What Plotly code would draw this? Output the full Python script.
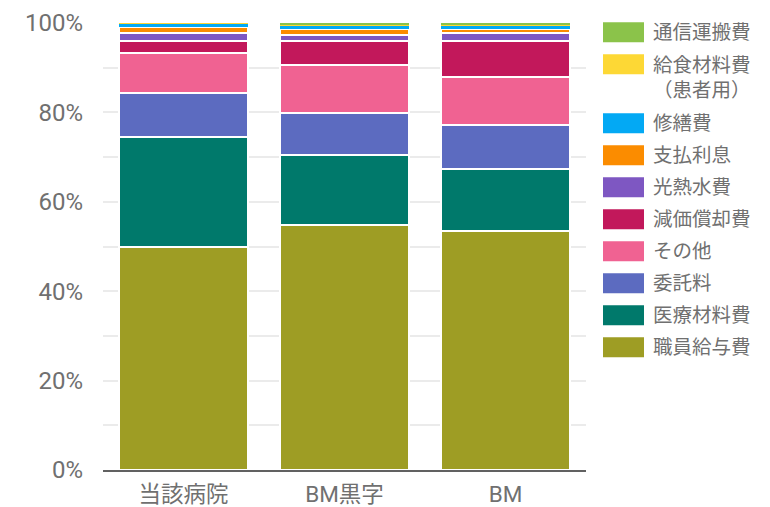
import plotly.graph_objects as go

# Hospital cost structure: share of total expenses (%), three comparison groups
categories = ["当該病院", "BM黒字", "BM"]

# Expense items, stacked bottom to top
items = ["職員給与費", "医療材料費", "委託料", "その他", "減価償却費",
         "光熱水費", "支払利息", "修繕費", "給食材料費<br>（患者用）", "通信運搬費"]

salaries = [50.0, 54.7, 53.4]
medical_materials = [24.5, 15.7, 13.9]
outsourcing = [9.9, 9.4, 9.85]
other = [8.9, 10.7, 10.7]
depreciation = [2.7, 5.4, 8.05]
utilities = [1.8, 1.35, 1.8]
interest = [1.3, 1.35, 0.9]
repairs = [0.7, 0.7, 0.7]
patient_meals = [0.2, 0.45, 0.45]
communication = [0.2, 0.3, 0.3]

series = [salaries, medical_materials, outsourcing, other, depreciation,
          utilities, interest, repairs, patient_meals, communication]

colors = ["#9E9D24", "#00796B", "#5C6BC0", "#F06292", "#C2185B",
          "#7E57C2", "#FB8C00", "#03A9F4", "#FDD835", "#8BC34A"]

TEXT = "#707070"
FONT = "Roboto, 'Noto Sans CJK JP', sans-serif"

fig = go.Figure()
for name, vals, col in zip(items, series, colors):
    thin = max(vals) < 1.0
    fig.add_trace(go.Bar(
        x=categories, y=vals, name=name.replace("<br>", ""),
        marker=dict(color=col, line=dict(color="white", width=0 if thin else 2)),
        showlegend=False,
    ))

# Plot-area geometry in pixels, used to place the side legend
W, H = 770, 507
L, R, T, B = 103, 184, 22.7, 37.3
pw, ph = W - L - R, H - T - B


def px_x(x):
    return (x - L) / pw


def px_y(y):
    return (H - B - y) / ph


shapes, annotations = [], []
yc = 32
for name, col in zip(reversed(items), reversed(colors)):
    lines = name.count("<br>") + 1
    shapes.append(dict(type="rect", xref="paper", yref="paper",
                       x0=px_x(603), x1=px_x(644), y0=px_y(yc + 10), y1=px_y(yc - 10),
                       fillcolor=col, line=dict(width=0), layer="above"))
    ty = yc + 13.5 * (lines - 1)
    annotations.append(dict(text=name, xref="paper", yref="paper",
                            x=px_x(651), y=px_y(ty), xanchor="left", yanchor="middle",
                            align="left", showarrow=False,
                            font=dict(family=FONT, size=19.5, color=TEXT)))
    yc += 32 + 27 * (lines - 1)

fig.update_layout(
    barmode="stack",
    bargap=0.194,
    width=W, height=H,
    margin=dict(l=L, r=R, t=T, b=B, pad=0, autoexpand=False),
    paper_bgcolor="white", plot_bgcolor="white",
    font=dict(family=FONT, color=TEXT),
    shapes=shapes, annotations=annotations,
    xaxis=dict(showline=True, linecolor="#616161", linewidth=2, automargin=False,
               showgrid=False, ticks="", ticklabelstandoff=3,
               tickfont=dict(size=22.5, color=TEXT, family=FONT)),
    yaxis=dict(range=[0, 100], dtick=20, ticksuffix="%", showline=False,
               zeroline=False, showgrid=True, gridcolor="#EBEBEB", gridwidth=2,
               minor=dict(dtick=10, showgrid=True, gridcolor="#EBEBEB", gridwidth=2),
               ticks="", ticklabelstandoff=19, automargin=False,
               tickfont=dict(size=24, color=TEXT, family=FONT)),
)

fig.write_html("out.html")
